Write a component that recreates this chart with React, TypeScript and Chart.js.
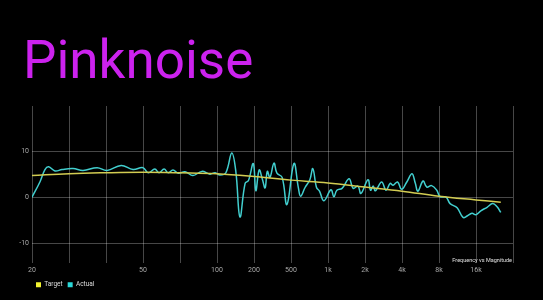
import React, { useEffect, useRef } from 'react';
import { Chart, registerables } from 'chart.js';

Chart.register(...registerables);

const TITLE = 'Pinknoise';
const CAPTION = 'Frequency vs Magnitude';
const seriesNames = ['Target', 'Actual'];

// x positions are category-slot indices on the frequency axis (one slot per tick)
const xTickLabels = ['20', '', '', '50', '', '100', '200', '500', '1k', '2k', '4k', '8k', '16k', ''];
const yTickValues = [-10, 0, 10];

const targetX = [0, 1, 2, 3, 4, 5, 6, 7, 8, 9, 10, 11, 12, 12.67];
const targetY = [4.7, 5.1, 5.3, 5.4, 5.3, 5.1, 4.5, 3.7, 3.1, 2.2, 1.3, 0.2, -0.6, -1.1];

const actualX = [
  0.0, 0.22, 0.35, 0.45, 0.62, 0.81, 1.11, 1.38, 1.76, 2.03, 2.41, 2.73, 3.0, 3.14, 3.32, 3.43,
  3.57, 3.68, 3.81, 3.95, 4.14, 4.35, 4.59, 4.81, 4.95, 5.08, 5.24, 5.4, 5.51, 5.62, 5.76, 5.85,
  5.98, 6.05, 6.14, 6.23, 6.3, 6.36, 6.43, 6.54, 6.62, 6.76, 6.89, 7.08, 7.2, 7.26, 7.38, 7.51,
  7.59, 7.69, 7.77, 7.89, 8.08, 8.16, 8.24, 8.38, 8.57, 8.68, 8.81, 8.89, 9.08, 9.15, 9.22, 9.28,
  9.45, 9.57, 9.68, 9.76, 9.88, 9.99, 10.13, 10.27, 10.36, 10.43, 10.57, 10.67, 10.8, 10.94, 11.03,
  11.19, 11.3, 11.49, 11.65, 11.76, 11.89, 12.0, 12.14, 12.3, 12.45, 12.57, 12.67,
];
const actualY = [
  0, 3.4, 6.0, 6.6, 5.7, 6.0, 6.2, 5.8, 6.4, 5.8, 6.9, 6.0, 6.4, 5.3, 6.1, 5.3,
  6.1, 5.3, 5.9, 5.2, 5.5, 4.7, 5.6, 5.0, 5.3, 4.8, 5.3, 9.6, 5.5, -4.3, 3.0, 3.6,
  7.3, 1.4, 5.9, 3.8, 2.0, 5.6, 4.3, 7.4, 5.2, 4.3, -1.6, 7.3, 2.0, 0.2, 2.1, 3.8,
  6.2, 2.1, 1.3, -0.8, 1.6, 0.1, 1.5, 1.9, 4.0, 1.9, 2.4, 0.8, 3.8, 1.5, 2.4, 1.4,
  3.3, 1.5, 3.0, 2.6, 3.3, 1.7, 3.3, 5.1, 3.0, 1.3, 3.5, 2.2, 2.5, 1.5, 0.1,
  0.0, -1.4, -2.3, -4.4, -4.1, -3.5, -3.8, -2.9, -2.2, -1.4, -2.1, -3.3,
];

const FONT = 'Roboto';
const GRID = 'rgba(255,255,255,0.28)';
const TICK_COLOR = '#a8a8a8';

const captionPlugin = {
  id: 'caption',
  afterLayout(chart: any) {
    if (chart.titleBlock) {
      chart.titleBlock.left += 9;
      chart.titleBlock.right += 9;
    }
    if (chart.legend) {
      chart.legend.left += 17;
      chart.legend.right += 17;
    }
  },
  afterDraw(chart: any) {
    const { ctx, chartArea } = chart;
    ctx.save();
    ctx.font = `5.5px ${FONT}`;
    ctx.fillStyle = '#e0e0e0';
    ctx.textAlign = 'right';
    ctx.textBaseline = 'alphabetic';
    ctx.fillText(CAPTION, chartArea.right - 1, chartArea.bottom - 1.5);
    ctx.restore();
  },
};

export default function App() {
  const ref = useRef<HTMLCanvasElement | null>(null);

  useEffect(() => {
    if (!ref.current) return;
    Chart.defaults.font.family = FONT;
    const chart = new Chart(ref.current, {
      type: 'line',
      data: {
        datasets: [
          {
            label: seriesNames[0],
            data: targetX.map((x, i) => ({ x, y: targetY[i] })),
            borderColor: '#d2cc52',
            backgroundColor: '#f2f230',
            borderWidth: 1.5,
            pointRadius: 0,
            tension: 0.4,
            fill: false,
          },
          {
            label: seriesNames[1],
            data: actualX.map((x, i) => ({ x, y: actualY[i] })),
            borderColor: '#42cfcf',
            backgroundColor: '#2ad8d8',
            borderWidth: 1.5,
            pointRadius: 0,
            tension: 0.4,
            fill: false,
          },
        ],
      },
      options: {
        responsive: false,
        animation: false,
        layout: { padding: { left: 14, right: 30, top: 0, bottom: 2 } },
        scales: {
          x: {
            type: 'linear',
            min: 0,
            max: xTickLabels.length - 1,
            afterBuildTicks: (scale: any) => {
              scale.ticks = xTickLabels.map((_, i) => ({ value: i }));
            },
            afterFit: (scale: any) => {
              scale.height = 13.5;
            },
            ticks: {
              autoSkip: false,
              maxRotation: 0,
              padding: 3,
              color: TICK_COLOR,
              font: { size: 7 },
              callback: (_v: any, i: number) => xTickLabels[i] ?? '',
            },
            grid: { color: GRID, drawTicks: false, lineWidth: 1 },
            border: { display: false },
          },
          y: {
            type: 'linear',
            min: -14.3,
            max: 19.8,
            afterBuildTicks: (scale: any) => {
              scale.ticks = yTickValues.map((v) => ({ value: v }));
            },
            afterFit: (scale: any) => {
              scale.width = 18;
            },
            ticks: {
              padding: 3,
              color: TICK_COLOR,
              font: { size: 7 },
              callback: (v: any) => String(v),
            },
            grid: { color: GRID, drawTicks: false, lineWidth: 1 },
            border: { display: false },
          },
        },
        plugins: {
          title: {
            display: true,
            text: TITLE,
            align: 'start',
            color: '#cc22ee',
            font: { family: FONT, size: 53, weight: 'normal', lineHeight: 1.2 },
            padding: { top: 33, bottom: 9.4 },
          },
          legend: {
            display: true,
            position: 'bottom',
            align: 'start',
            labels: {
              boxWidth: 5,
              boxHeight: 5,
              padding: 5,
              color: '#dddddd',
              font: { size: 6.5 },
              generateLabels: (chart: any) =>
                Chart.defaults.plugins.legend.labels
                  .generateLabels(chart)
                  .map((l: any) => ({ ...l, lineWidth: 0 })),
            },
          },
          tooltip: { enabled: false },
        },
      },
      plugins: [captionPlugin],
    } as any);
    return () => chart.destroy();
  }, []);

  return (
    <div style={{ position: 'fixed', left: 0, top: 0, width: 543, height: 300, background: '#000' }}>
      <canvas ref={ref} width={543} height={300} style={{ display: 'block' }} />
    </div>
  );
}
